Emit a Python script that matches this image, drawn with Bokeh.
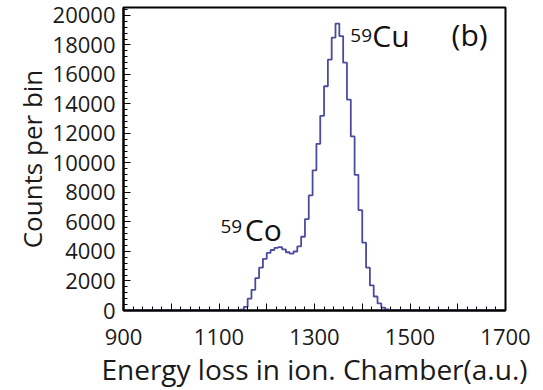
from bokeh.plotting import figure
from bokeh.layouts import gridplot
from bokeh.models import FixedTicker, Label
from bokeh.embed import file_html
from bokeh.resources import INLINE

# ---- data ----
bin_width = 8
x_min, x_max = 900, 1700
peak_left_edges = [1136, 1144, 1152, 1160, 1168, 1176, 1184, 1192, 1200, 1208,
                   1216, 1224, 1232, 1240, 1248, 1256, 1264, 1272, 1280, 1288,
                   1296, 1304, 1312, 1320, 1328, 1336, 1344, 1352, 1360, 1368,
                   1376, 1384, 1392, 1400, 1408, 1416, 1424, 1432, 1440, 1448,
                   1456, 1464]
peak_counts = [0, 50, 250, 800, 1400, 2200, 2900, 3500, 3900, 4100,
               4250, 4300, 4150, 3950, 3850, 4000, 4350, 5000, 6200, 7800,
               9500, 11300, 13200, 15200, 17000, 18500, 19450, 18600, 16800, 14300,
               11800, 9200, 6800, 4600, 2900, 1700, 950, 480, 200, 70,
               15, 0]
x_tick_labels = [900, 1100, 1300, 1500, 1700]
y_ticks = [0, 2000, 4000, 6000, 8000, 10000, 12000, 14000, 16000, 18000, 20000]

# histogram outline (step line) built from the bins; empty bins elsewhere
xs = [float(x_min)]
ys = [0.0]
for e, c in zip(peak_left_edges, peak_counts):
    xs += [float(e), float(e + bin_width)]
    ys += [float(c), float(c)]
xs += [float(peak_left_edges[-1] + bin_width), float(x_max)]
ys += [0.0, 0.0]

FONT = "Open Sans"

p = figure(width=543, height=390, output_backend="svg", toolbar_location=None,
           x_range=(x_min, x_max), y_range=(0, 20540))
p.min_border_left = 123
p.min_border_right = 38
p.min_border_top = 7
p.min_border_bottom = 80
p.outline_line_color = "black"
p.outline_line_width = 2
p.grid.visible = False

p.line(x=xs, y=ys, line_color="#4b4b9e", line_width=1.8)

x_major = list(range(900, 1701, 100))
x_minor = list(range(900, 1701, 20))
y_minor = list(range(0, 20541, 400))

p.xaxis.ticker = FixedTicker(ticks=x_major, minor_ticks=x_minor)
p.yaxis.ticker = FixedTicker(ticks=y_ticks, minor_ticks=y_minor)
for ax in (p.xaxis, p.yaxis):
    ax.axis_line_width = 2
    ax.major_tick_in = 7
    ax.major_tick_out = 0
    ax.minor_tick_in = 4
    ax.minor_tick_out = 0
    ax.major_label_text_font = FONT
    ax.major_label_text_font_size = "22px"
    ax.major_label_text_color = "#1a1a1a"
    ax.axis_label_text_font = FONT
    ax.axis_label_text_font_style = "normal"
    ax.axis_label_text_color = "#1a1a1a"

p.xaxis.major_label_overrides = {t: (str(t) if t in x_tick_labels else "") for t in x_major}
p.xaxis.major_label_standoff = 18
p.xaxis.axis_label = "Energy loss in ion. Chamber(a.u.)"
p.xaxis.axis_label_text_font_size = "28px"
p.xaxis.axis_label_standoff = 2

p.yaxis.major_label_standoff = 8
p.yaxis.axis_label = "Counts per bin"
p.yaxis.axis_label_text_font_size = "26px"
p.yaxis.axis_label_standoff = 0

def lab(x, y, t, size):
    p.add_layout(Label(x=x, y=y, text=t, text_font=FONT, text_font_size=size,
                       text_color="#111111"))

lab(1103, 5260, "59", "19px")
lab(1154, 4130, "Co", "30px")
lab(1375, 18200, "59", "19px")
lab(1421, 17280, "Cu", "30px")
lab(1587, 17320, "(b)", "30px")

g = gridplot([[p]], toolbar_location=None)
open("out.html", "w").write(file_html(g, INLINE))
